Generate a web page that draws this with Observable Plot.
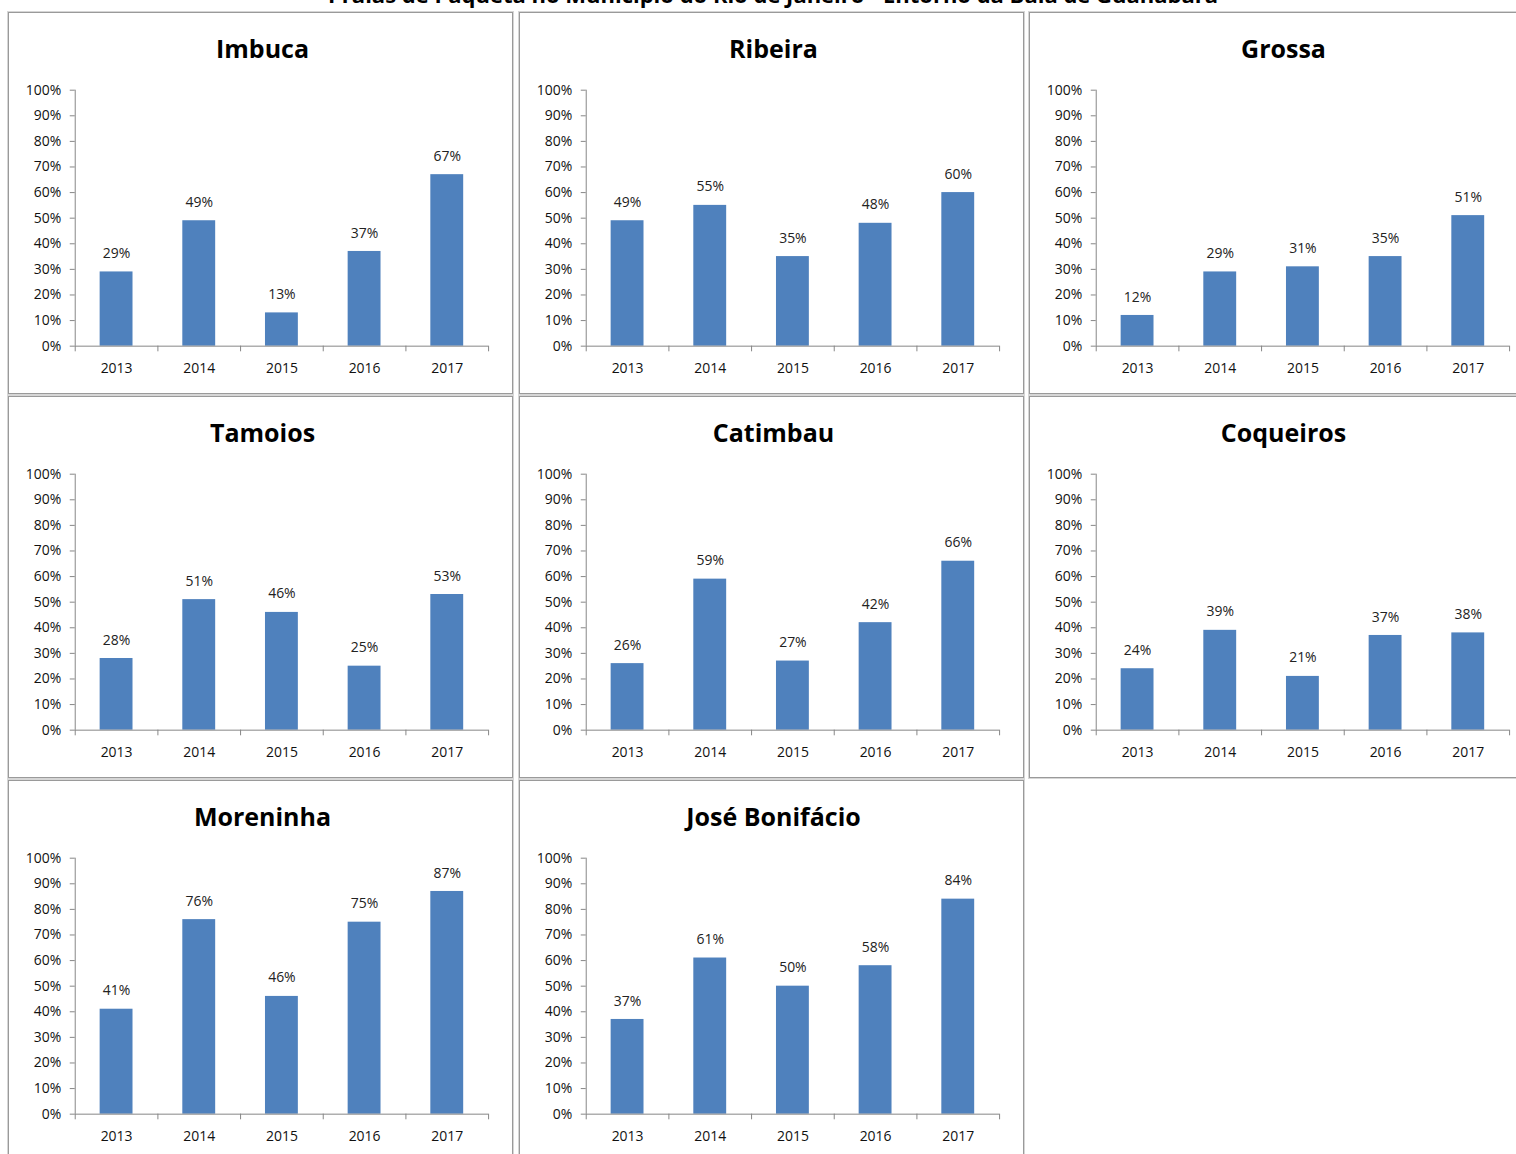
<!DOCTYPE html>
<html>
<head>
<meta charset="utf-8">
<script src="https://cdn.jsdelivr.net/npm/d3@7"></script>
<script src="https://cdn.jsdelivr.net/npm/@observablehq/plot@0.6"></script>
<style>
  html, body { margin: 0; padding: 0; background: #fff; }
  body { width: 1516px; height: 1154px; position: relative; overflow: hidden; font-family: "Open Sans", sans-serif; }
  #main-title { position: absolute; left: 0; width: 1546px; top: -21px; text-align: center; font-weight: bold; font-size: 22px; line-height: 30px; color: #000; }
  .panel { position: absolute; width: 505px; height: 382px; box-sizing: border-box; border: 1px solid #9a9a9a; outline: 1px solid #d6d6d6; background: #fff; }
  .ptitle { position: absolute; left: 4px; right: 0; top: 18px; text-align: center; font-weight: bold; font-size: 25px; color: #000; line-height: 34px; }
  .panel svg { position: absolute; left: -1px; top: -1px; }
  .panel g[aria-label="y-axis tick"] { stroke: #868686; }
</style>
</head>
<body>
<div id="main-title">Praias de Paquetá no Município do Rio de Janeiro - Entorno da Baía de Guanabara</div>
<script>
// ---- data ----
const years = ["2013", "2014", "2015", "2016", "2017"];
const beaches = ["Imbuca", "Ribeira", "Grossa", "Tamoios", "Catimbau", "Coqueiros", "Moreninha", "José Bonifácio"];
const imbuca       = [0.29, 0.49, 0.13, 0.37, 0.67];
const ribeira      = [0.49, 0.55, 0.35, 0.48, 0.60];
const grossa       = [0.12, 0.29, 0.31, 0.35, 0.51];
const tamoios      = [0.28, 0.51, 0.46, 0.25, 0.53];
const catimbau     = [0.26, 0.59, 0.27, 0.42, 0.66];
const coqueiros    = [0.24, 0.39, 0.21, 0.37, 0.38];
const moreninha    = [0.41, 0.76, 0.46, 0.75, 0.87];
const joseBonifacio = [0.37, 0.61, 0.50, 0.58, 0.84];
const yTicks = [0, 0.1, 0.2, 0.3, 0.4, 0.5, 0.6, 0.7, 0.8, 0.9, 1.0];

const series = [imbuca, ribeira, grossa, tamoios, catimbau, coqueiros, moreninha, joseBonifacio];

// ---- layout ----
const colLeft = [8, 519, 1029];
const rowTop = [12, 396, 780];
const W = 505, H = 382;
const mL = 67, mR = 23, mT = 78, mB = 47;
const step = (W - mL - mR) / years.length;
const pct = d3.format(".0%");
const axisGray = "#868686";

beaches.forEach((name, i) => {
  const values = series[i];
  const data = years.map((year, j) => ({year, value: values[j]}));
  const panel = document.createElement("div");
  panel.className = "panel";
  panel.style.left = colLeft[i % 3] + "px";
  panel.style.top = rowTop[Math.floor(i / 3)] + "px";
  const t = document.createElement("div");
  t.className = "ptitle";
  t.textContent = name;
  panel.appendChild(t);

  const chart = Plot.plot({
    width: W, height: H,
    marginTop: mT, marginBottom: mB, marginLeft: mL, marginRight: mR,
    style: {fontFamily: "'Open Sans', sans-serif", fontSize: "14px", color: "#111", background: "transparent", overflow: "visible"},
    x: {type: "band", domain: years, paddingInner: 0.6, paddingOuter: 0.3, label: null, tickSize: 0, tickPadding: 17},
    y: {domain: [0, 1], ticks: yTicks, tickFormat: pct, label: null, tickSize: 5, tickPadding: 9},
    marks: [
      Plot.barY(data, {x: "year", y: "value", fill: "#4f81bd"}),
      Plot.ruleY([0], {stroke: axisGray}),
      Plot.ruleX([years[0]], {x: d => d, y1: 0, y2: 1, dx: -step / 2, stroke: axisGray}),
      Plot.ruleX(years, {x: d => d, y1: 0, y2: -0.022, dx: -step / 2, stroke: axisGray}),
      Plot.ruleX([years[years.length - 1]], {x: d => d, y1: 0, y2: -0.022, dx: step / 2, stroke: axisGray}),
      Plot.text(data, {x: "year", y: "value", text: d => pct(d.value), lineAnchor: "bottom", dy: -14, fill: "#222"})
    ]
  });
  panel.appendChild(chart);
  document.body.appendChild(panel);
});
</script>
</body>
</html>
